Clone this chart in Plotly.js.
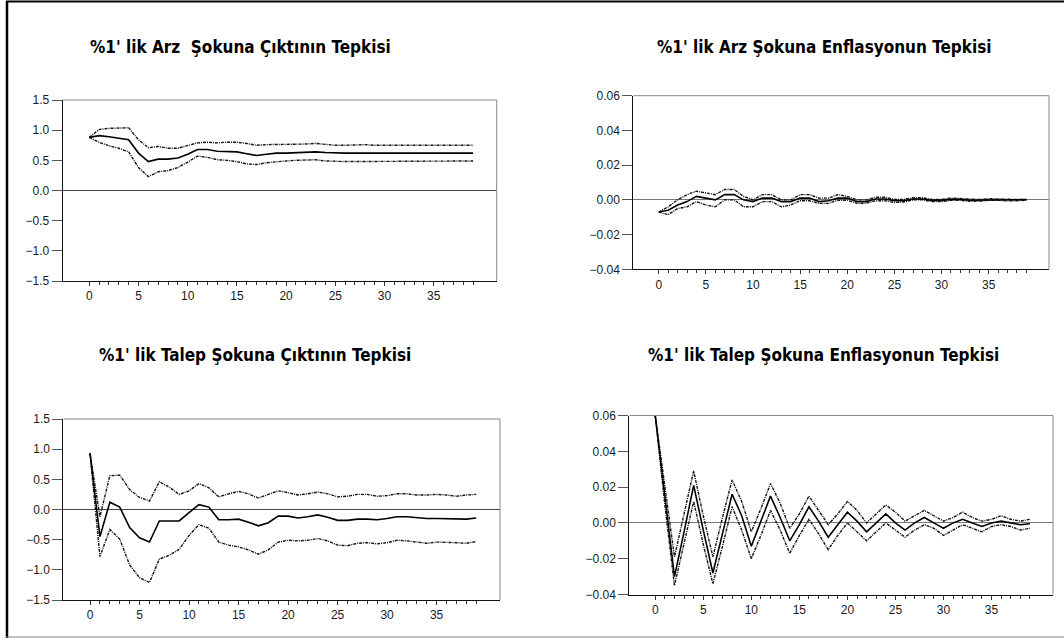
<!DOCTYPE html>
<html>
<head>
<meta charset="utf-8">
<script src="https://cdn.plot.ly/plotly-3.0.1.min.js"></script>
<style>html,body{margin:0;padding:0;background:#fff;}#chart{width:1064px;height:641px;}</style>
</head>
<body>
<div id="chart"></div>
<script>
// Horizons 0..39
const periods = Array.from({length: 40}, (_, i) => i);
const majorTicks = [0, 5, 10, 15, 20, 25, 30, 35];

const titles = [
  "%1' lik Arz  Şokuna Çıktının Tepkisi",
  "%1' lik Arz Şokuna Enflasyonun Tepkisi",
  "%1' lik Talep Şokuna Çıktının Tepkisi",
  "%1' lik Talep Şokuna Enflasyonun Tepkisi"
];

// Panel 1: supply shock -> output
const arzCikti = [0.88,0.91,0.89,0.87,0.84,0.62,0.48,0.52,0.52,0.54,0.60,0.68,0.68,0.65,0.65,0.64,0.61,0.58,0.60,0.62,0.62,0.63,0.64,0.64,0.63,0.62,0.62,0.62,0.62,0.62,0.62,0.63,0.63,0.62,0.62,0.62,0.62,0.62,0.62,0.62];
const arzCiktiUst = [0.88,1.01,1.03,1.04,1.04,0.84,0.71,0.73,0.70,0.70,0.74,0.79,0.80,0.79,0.80,0.80,0.78,0.75,0.76,0.76,0.76,0.76,0.77,0.78,0.76,0.75,0.75,0.76,0.76,0.75,0.75,0.76,0.76,0.75,0.75,0.75,0.75,0.75,0.75,0.75];
const arzCiktiAlt = [0.88,0.80,0.74,0.70,0.64,0.38,0.23,0.31,0.33,0.38,0.47,0.57,0.55,0.51,0.50,0.48,0.44,0.43,0.46,0.48,0.49,0.50,0.51,0.51,0.49,0.48,0.48,0.48,0.48,0.48,0.49,0.49,0.49,0.49,0.49,0.49,0.49,0.49,0.49,0.49];

// Panel 2: supply shock -> inflation
const arzEnf = [-0.007,-0.006,-0.003,-0.001,0.002,0.001,0.000,0.003,0.003,0.000,-0.001,0.001,0.001,-0.001,-0.001,0.001,0.001,-0.001,-0.0005,0.001,0.001,-0.001,-0.001,0.0005,0.0005,-0.0005,-0.0005,0.0005,0.0005,-0.0003,-0.0003,0.0003,0.0003,-0.0002,-0.0002,0.0002,0.0002,-0.0001,-0.0001,0.0001];
const arzEnfUst = [-0.007,-0.004,0.000,0.003,0.005,0.004,0.003,0.006,0.006,0.002,0.000,0.003,0.003,0.000,0.000,0.003,0.003,0.001,0.001,0.003,0.002,0.000,0.000,0.0015,0.0015,0.0003,0.0003,0.0012,0.0012,0.0002,0.0003,0.001,0.0008,0.0002,0.0002,0.0007,0.0006,0.0002,0.0002,0.0005];
const arzEnfAlt = [-0.007,-0.0085,-0.005,-0.004,-0.001,-0.003,-0.004,0.000,0.000,-0.004,-0.004,-0.001,-0.001,-0.004,-0.003,-0.0005,-0.0005,-0.002,-0.002,-0.0002,-0.0002,-0.002,-0.002,-0.0005,-0.0005,-0.0015,-0.0012,0.000,0.000,-0.001,-0.001,-0.0003,-0.0003,-0.0008,-0.0008,-0.0002,-0.0002,-0.0006,-0.0005,-0.0002];

// Panel 3: demand shock -> output
const talepCikti = [0.93,-0.45,0.12,0.04,-0.30,-0.47,-0.54,-0.19,-0.19,-0.19,-0.05,0.08,0.04,-0.17,-0.17,-0.16,-0.21,-0.27,-0.22,-0.11,-0.11,-0.14,-0.12,-0.09,-0.13,-0.18,-0.18,-0.16,-0.16,-0.17,-0.15,-0.12,-0.12,-0.14,-0.15,-0.15,-0.15,-0.16,-0.16,-0.14];
const talepCiktiUst = [0.93,-0.12,0.56,0.57,0.33,0.20,0.14,0.46,0.37,0.25,0.31,0.43,0.36,0.21,0.26,0.30,0.26,0.19,0.25,0.31,0.28,0.24,0.26,0.29,0.26,0.21,0.22,0.25,0.25,0.22,0.23,0.26,0.26,0.24,0.24,0.25,0.24,0.22,0.24,0.25];
const talepCiktiAlt = [0.93,-0.78,-0.33,-0.49,-0.92,-1.13,-1.21,-0.82,-0.76,-0.66,-0.43,-0.25,-0.31,-0.54,-0.59,-0.62,-0.67,-0.74,-0.67,-0.54,-0.51,-0.52,-0.51,-0.48,-0.52,-0.59,-0.60,-0.56,-0.55,-0.57,-0.55,-0.51,-0.52,-0.54,-0.56,-0.54,-0.54,-0.55,-0.56,-0.53];

// Panel 4: demand shock -> inflation
const talepEnf = [0.060,0.015,-0.030,-0.005,0.021,-0.004,-0.028,-0.006,0.016,0.004,-0.013,0.001,0.015,0.003,-0.010,-0.001,0.009,0.001,-0.008,-0.001,0.006,0.001,-0.005,0.000,0.005,0.000,-0.004,0.000,0.003,0.000,-0.003,0.000,0.002,0.000,-0.002,0.000,0.001,0.000,-0.001,-0.0005];
const talepEnfUst = [0.060,0.020,-0.019,0.005,0.029,0.004,-0.019,0.003,0.024,0.012,-0.005,0.008,0.022,0.011,-0.003,0.005,0.015,0.007,-0.001,0.005,0.012,0.007,0.000,0.005,0.010,0.006,0.001,0.004,0.007,0.004,0.001,0.003,0.006,0.003,0.001,0.002,0.004,0.002,0.001,0.002];
const talepEnfAlt = [0.060,0.010,-0.035,-0.012,0.012,-0.012,-0.034,-0.013,0.009,-0.004,-0.020,-0.007,0.007,-0.004,-0.017,-0.007,0.002,-0.006,-0.015,-0.007,0.000,-0.005,-0.010,-0.005,0.000,-0.004,-0.008,-0.004,-0.001,-0.003,-0.007,-0.004,-0.001,-0.003,-0.005,-0.002,-0.001,-0.002,-0.004,-0.003];

const panels = [
  {mid: arzCikti, up: arzCiktiUst, lo: arzCiktiAlt, yr: [-1.5, 1.5], dt: 0.5, fmt: '.1f', zc: '#444'},
  {mid: arzEnf, up: arzEnfUst, lo: arzEnfAlt, yr: [-0.04, 0.06], dt: 0.02, fmt: '.2f', zc: '#777'},
  {mid: talepCikti, up: talepCiktiUst, lo: talepCiktiAlt, yr: [-1.5, 1.5], dt: 0.5, fmt: '.1f', zc: '#444'},
  {mid: talepEnf, up: talepEnfUst, lo: talepEnfAlt, yr: [-0.04, 0.06], dt: 0.02, fmt: '.2f', zc: '#777'}
];

const W = 1064, H = 641;
// plot-area pixel boxes [left, right, top, bottom]
const boxes = [
  [62.7, 496.7, 100, 281],
  [633.3, 1049, 95.7, 269.3],
  [63.3, 500, 419, 600],
  [629.3, 1053, 415.5, 594.5]
];
const titlePos = [[240, 47], [824, 47], [255, 355], [823, 355]];

const traces = [];
const layout = {
  width: W, height: H,
  margin: {l: 0, r: 0, t: 0, b: 0},
  paper_bgcolor: '#fff', plot_bgcolor: '#fff',
  showlegend: false,
  font: {family: 'Liberation Sans, Arial, sans-serif', size: 12, color: '#1a1a1a'},
  annotations: [], shapes: []
};

panels.forEach((p, i) => {
  const n = i + 1;
  const xa = 'x' + (n === 1 ? '' : n), ya = 'y' + (n === 1 ? '' : n);
  const band = {color: '#111', width: 1.4, dash: '3px,1px,1px,1px'};
  traces.push({x: periods, y: p.up, xaxis: xa, yaxis: ya, mode: 'lines', line: band, hoverinfo: 'skip'});
  traces.push({x: periods, y: p.lo, xaxis: xa, yaxis: ya, mode: 'lines', line: band, hoverinfo: 'skip'});
  traces.push({x: periods, y: p.mid, xaxis: xa, yaxis: ya, mode: 'lines', line: {color: '#000', width: 1.6}});
  const b = boxes[i];
  const xkey = 'xaxis' + (n === 1 ? '' : n), ykey = 'yaxis' + (n === 1 ? '' : n);
  layout[xkey] = {
    domain: [b[0] / W, b[1] / W], anchor: ya,
    range: [-2.7, 41.4], showgrid: false, zeroline: false,
    showline: true, linecolor: '#111', linewidth: 1,
    tickmode: 'array', tickvals: majorTicks, ticks: 'outside', ticklen: 4, tickcolor: '#333',
    minor: {tickmode: 'array', tickvals: periods, ticks: 'outside', ticklen: 3, tickcolor: '#333'},
    tickfont: {size: 12, color: '#1a1a1a'}, fixedrange: true
  };
  layout[ykey] = {
    domain: [1 - b[3] / H, 1 - b[2] / H], anchor: xa,
    range: p.yr, dtick: p.dt, tick0: 0, tickformat: p.fmt,
    showgrid: false, zeroline: true, zerolinecolor: p.zc, zerolinewidth: 1,
    showline: true, linecolor: '#111', linewidth: 1,
    ticks: 'outside', ticklen: 10, tickcolor: '#555',
    tickfont: {size: 12, color: '#1a1a1a'}, fixedrange: true
  };
  // grey top and right borders
  layout.shapes.push({type: 'line', xref: 'paper', yref: 'paper', x0: b[0] / W, x1: b[1] / W, y0: 1 - b[2] / H, y1: 1 - b[2] / H, line: {color: '#888', width: 1}});
  layout.shapes.push({type: 'line', xref: 'paper', yref: 'paper', x0: b[1] / W, x1: b[1] / W, y0: 1 - b[2] / H, y1: 1 - b[3] / H, line: {color: '#888', width: 1}});
  layout.annotations.push({
    text: '<b>' + titles[i] + '</b>', xref: 'paper', yref: 'paper',
    x: titlePos[i][0] / W, y: 1 - titlePos[i][1] / H, xanchor: 'center', yanchor: 'middle',
    showarrow: false, font: {family: 'Liberation Sans Narrow, DejaVu Sans Condensed, Open Sans, sans-serif', size: 17, color: '#000'}
  });
});

// outer frame
layout.shapes.push({type: 'line', xref: 'paper', yref: 'paper', x0: 7 / W, x1: 7 / W, y0: 1 - 1 / H, y1: 1 - 638 / H, line: {color: '#000', width: 2.5}});
layout.shapes.push({type: 'line', xref: 'paper', yref: 'paper', x0: 6 / W, x1: 1, y0: 1 - 1.5 / H, y1: 1 - 1.5 / H, line: {color: '#000', width: 2}});
layout.shapes.push({type: 'line', xref: 'paper', yref: 'paper', x0: 6 / W, x1: 1, y0: 1 - 637 / H, y1: 1 - 637 / H, line: {color: '#888', width: 1}});

Plotly.newPlot('chart', traces, layout, {displayModeBar: false, staticPlot: true});
</script>
</body>
</html>
